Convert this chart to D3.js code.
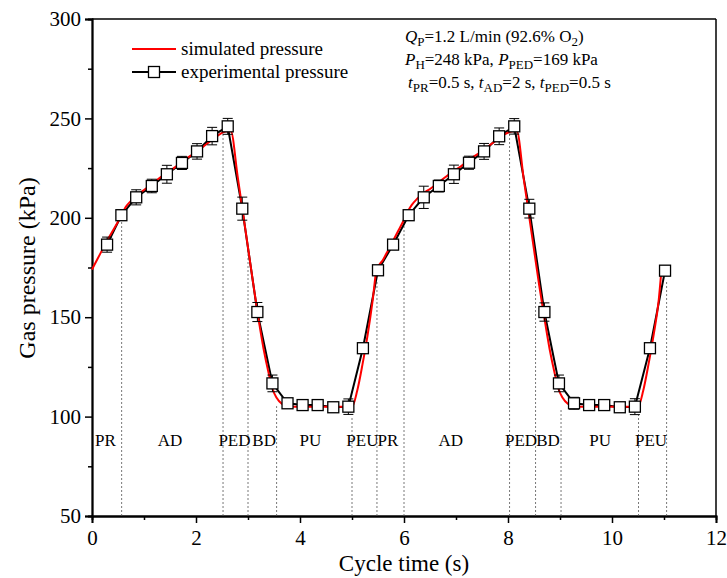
<!DOCTYPE html>
<html lang="en">
<head>
<meta charset="UTF-8">
<title>Gas pressure cycle</title>
<script src="https://d3js.org/d3.v7.min.js"></script>
<style>
  body { margin: 0; background: #fff; }
  svg text { font-family: "Liberation Serif", "Times New Roman", serif; fill: #000; }
</style>
</head>
<body>
<script>
// experimental points (s, kPa) and error half-widths
const expTime = [0.29, 0.565, 0.85, 1.15, 1.44, 1.73, 2.02, 2.31, 2.61, 2.89, 3.18, 3.47, 3.76, 4.05, 4.34, 4.64, 4.93, 5.21, 5.50,
                 5.79, 6.09, 6.38, 6.67, 6.96, 7.25, 7.54, 7.83, 8.12, 8.41, 8.70, 8.98, 9.27, 9.56, 9.85, 10.15, 10.44, 10.73, 11.02];
const expPressure = [186.5, 201.3, 210.3, 216, 221.9, 227.6, 233.4, 241.1, 246, 204.6, 152.6, 116.7, 106.7, 105.8, 105.8, 104.7, 105, 134.4, 173.6,
                     186.5, 201.3, 210.3, 216, 221.9, 227.7, 233.4, 241, 246, 204.6, 152.6, 116.7, 106.7, 105.8, 105.8, 104.7, 105, 134.4, 173.4];
const expError = [3.8, 2.5, 3.8, 3.4, 4.5, 3.3, 3.9, 4.4, 4, 5.8, 4.8, 4.2, 2, 1.5, 1.5, 1.5, 3.9, 1.5, 1.5,
                  2, 2.5, 5.6, 3, 4.6, 3.3, 4, 4.2, 3.9, 4.7, 4.6, 4.2, 3, 1.5, 1.5, 1.5, 4, 1.5, 1.5];

// simulated curve
const simTime = [0, 0.1, 0.2, 0.3, 0.4, 0.5, 0.57, 0.65, 0.75, 0.85, 1.0, 1.2, 1.4, 1.6, 1.8, 2.0, 2.2, 2.4, 2.52, 2.6, 2.67,
                 2.8, 2.9, 3.0, 3.1, 3.2, 3.3, 3.4, 3.47, 3.55, 3.65, 3.75, 3.9, 4.5, 5.0, 5.1, 5.2, 5.3, 5.4, 5.47,
                 5.6, 5.7, 5.8, 5.9, 6.0, 6.07, 6.15, 6.25, 6.35, 6.5, 6.7, 6.9, 7.1, 7.3, 7.5, 7.7, 7.9, 8.02, 8.1, 8.17,
                 8.3, 8.4, 8.5, 8.6, 8.7, 8.8, 8.9, 8.97, 9.05, 9.15, 9.25, 9.4, 10.0, 10.5, 10.6, 10.7, 10.8, 10.9, 10.95];
const simPressure = [174, 179, 184, 189, 193.5, 198, 201.5, 205.5, 208.5, 211, 214, 218, 222, 225.5, 229.5, 233, 237, 241, 243, 243.5, 243.5,
                     221, 203, 185, 167, 149.5, 134, 121.5, 114, 109.5, 106.5, 105.3, 105, 105, 105, 113, 126, 141, 159, 173.5,
                     179, 184, 189, 194, 199, 203, 206.5, 209.5, 212, 214.5, 218.5, 222.5, 226, 230, 233.5, 237.5, 241.5, 243, 243.5, 243.5,
                     220, 202, 184, 166, 149.5, 134, 121.5, 114, 109.5, 106.5, 105.3, 105, 105, 105, 113, 126, 141, 159, 173.5];

// phase boundaries (dashed drop lines) and labels
const phaseTime = [0.57, 2.52, 3.0, 3.55, 5.0, 5.48, 6.0, 8.03, 8.53, 9.02, 10.51, 11.05];
const phaseTop = [199, 242.8, 185, 105.3, 100, 168.7, 199.5, 244, 168, 104, 101, 168];
const phaseNames = ["PR", "AD", "PED", "BD", "PU", "PEU", "PR", "AD", "PED", "BD", "PU", "PEU"];
const phaseLabelX = [0.26, 1.5, 2.74, 3.31, 4.2, 5.2, 5.69, 6.9, 8.25, 8.77, 9.77, 10.75];

const xTicks = [0, 2, 4, 6, 8, 10, 12];
const yTicks = [50, 100, 150, 200, 250, 300];

const width = 727, height = 578;
const svg = d3.select("body").append("svg")
  .attr("width", width)
  .attr("height", height);

const x = d3.scaleLinear().domain([0, 12]).range([92, 716]);
const y = d3.scaleLinear().domain([50, 300]).range([516, 19]);

// frame (top and right)
svg.append("line").attr("x1", 92).attr("x2", 716).attr("y1", 19).attr("y2", 19)
  .attr("stroke", "#000").attr("stroke-width", 1.5);
svg.append("line").attr("x1", 716).attr("x2", 716).attr("y1", 19).attr("y2", 516)
  .attr("stroke", "#000").attr("stroke-width", 1.5);

// axes
svg.append("g").attr("transform", "translate(0,516)")
  .call(d3.axisBottom(x).tickValues(xTicks).tickFormat(d3.format("d")).tickSize(7).tickPadding(7));
svg.append("g").attr("transform", "translate(0,516)")
  .call(d3.axisBottom(x).tickValues([1, 3, 5, 7, 9, 11]).tickFormat("").tickSize(4));
svg.append("g").attr("transform", "translate(92,0)")
  .call(d3.axisLeft(y).tickValues(yTicks).tickSize(7).tickPadding(4));
svg.append("g").attr("transform", "translate(92,0)")
  .call(d3.axisLeft(y).tickValues([75, 125, 175, 225, 275]).tickFormat("").tickSize(4));

svg.selectAll(".domain").attr("stroke-width", 1.8);
svg.selectAll(".tick line").attr("stroke-width", 1.5);
svg.selectAll(".tick text").style("font-size", "21px").style("font-family", "Liberation Serif");

svg.append("text")
  .attr("x", 404).attr("y", 571)
  .attr("text-anchor", "middle")
  .style("font-size", "23px")
  .text("Cycle time (s)");

svg.append("text")
  .attr("transform", "translate(35,268) rotate(-90)")
  .attr("text-anchor", "middle")
  .style("font-size", "24px")
  .text("Gas pressure (kPa)");

// dashed phase lines
svg.selectAll(".phase")
  .data(phaseTime)
  .join("line")
  .attr("class", "phase")
  .attr("x1", d => x(d)).attr("x2", d => x(d))
  .attr("y1", 516)
  .attr("y2", (d, i) => y(phaseTop[i]))
  .attr("stroke", "#555")
  .attr("stroke-width", 0.8)
  .attr("stroke-dasharray", "2,2");

svg.selectAll(".phaseLabel")
  .data(phaseNames)
  .join("text")
  .attr("class", "phaseLabel")
  .attr("x", (d, i) => x(phaseLabelX[i]))
  .attr("y", 446)
  .attr("text-anchor", "middle")
  .style("font-size", "17px")
  .text(d => d);

// experimental line
const expData = expTime.map((t, i) => ({ t: t, p: expPressure[i], e: expError[i] }));
svg.append("path")
  .datum(expData)
  .attr("fill", "none")
  .attr("stroke", "#000")
  .attr("stroke-width", 2)
  .attr("d", d3.line().x(d => x(d.t)).y(d => y(d.p)));

// simulated line
const simData = simTime.map((t, i) => ({ t: t, p: simPressure[i] }));
svg.append("path")
  .datum(simData)
  .attr("fill", "none")
  .attr("stroke", "#f00")
  .attr("stroke-width", 2)
  .attr("d", d3.line().curve(d3.curveMonotoneX).x(d => x(d.t)).y(d => y(d.p)));

// error bars
const eb = svg.selectAll(".err").data(expData).join("g").attr("class", "err");
eb.append("line")
  .attr("x1", d => x(d.t)).attr("x2", d => x(d.t))
  .attr("y1", d => y(d.p + d.e)).attr("y2", d => y(d.p - d.e))
  .attr("stroke", "#000").attr("stroke-width", 1);
eb.append("line")
  .attr("x1", d => x(d.t) - 5).attr("x2", d => x(d.t) + 5)
  .attr("y1", d => y(d.p + d.e)).attr("y2", d => y(d.p + d.e))
  .attr("stroke", "#000").attr("stroke-width", 1);
eb.append("line")
  .attr("x1", d => x(d.t) - 5).attr("x2", d => x(d.t) + 5)
  .attr("y1", d => y(d.p - d.e)).attr("y2", d => y(d.p - d.e))
  .attr("stroke", "#000").attr("stroke-width", 1);

// squares
svg.selectAll(".marker")
  .data(expData)
  .join("rect")
  .attr("class", "marker")
  .attr("x", d => x(d.t) - 5.5)
  .attr("y", d => y(d.p) - 5.5)
  .attr("width", 11).attr("height", 11)
  .attr("fill", "#fff")
  .attr("stroke", "#000")
  .attr("stroke-width", 1.3);

// legend
svg.append("line").attr("x1", 132).attr("x2", 176).attr("y1", 49).attr("y2", 49)
  .attr("stroke", "#f00").attr("stroke-width", 2);
svg.append("text").attr("x", 181).attr("y", 55).style("font-size", "19px").text("simulated pressure");
svg.append("line").attr("x1", 132).attr("x2", 176).attr("y1", 72).attr("y2", 72)
  .attr("stroke", "#000").attr("stroke-width", 2);
svg.append("rect").attr("x", 148.5).attr("y", 66.5).attr("width", 11).attr("height", 11)
  .attr("fill", "#fff").attr("stroke", "#000").attr("stroke-width", 1.3);
svg.append("text").attr("x", 181).attr("y", 78).style("font-size", "19px").text("experimental pressure");

// annotation with subscripts
const notes = [
  { x: 405, y: 42, parts: [["Q", "i"], ["P", "s"], ["=1.2 L/min (92.6% O", "n"], ["2", "s"], [")", "n"]] },
  { x: 405, y: 65, parts: [["P", "i"], ["H", "s"], ["=248 kPa, ", "n"], ["P", "i"], ["PED", "s"], ["=169 kPa", "n"]] },
  { x: 408, y: 88, parts: [["t", "i"], ["PR", "s"], ["=0.5 s, ", "n"], ["t", "i"], ["AD", "s"], ["=2 s, ", "n"], ["t", "i"], ["PED", "s"], ["=0.5 s", "n"]] }
];
notes.forEach(n => {
  const t = svg.append("text").attr("x", n.x).attr("y", n.y).style("font-size", "17px");
  let shifted = false;
  n.parts.forEach(p => {
    const ts = t.append("tspan").text(p[0]);
    if (p[1] === "s") {
      ts.attr("dy", shifted ? 0 : 4).style("font-size", "13px");
      shifted = true;
    } else {
      if (shifted) ts.attr("dy", -4);
      shifted = false;
      if (p[1] === "i") ts.style("font-style", "italic");
    }
  });
});
</script>
</body>
</html>
